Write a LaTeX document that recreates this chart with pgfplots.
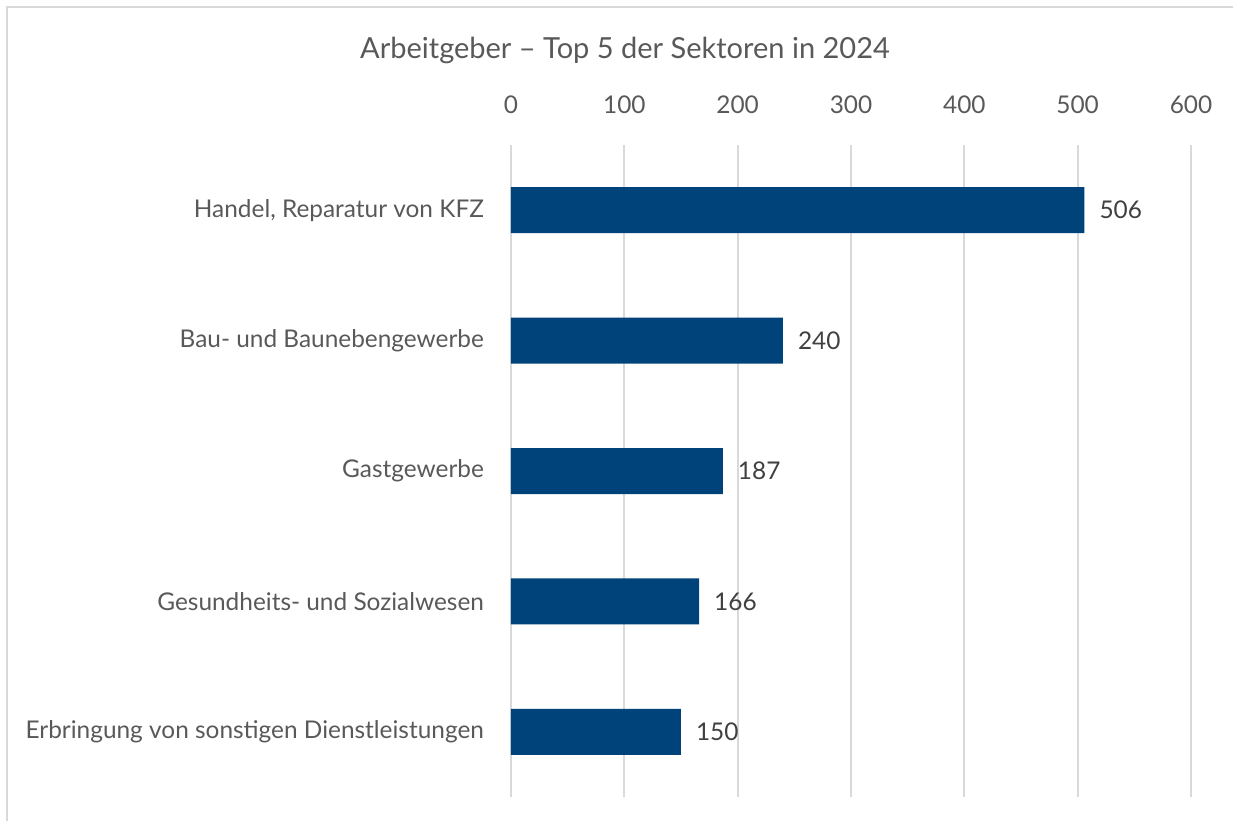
\documentclass[border=0pt]{standalone}
\usepackage{pgfplots}
\pgfplotsset{compat=1.18}
\usepackage{fontspec}
\setmainfont{Lato}
\definecolor{barblue}{RGB}{0,66,122}
\definecolor{txtgray}{RGB}{89,89,89}
\definecolor{valgray}{RGB}{64,64,64}
\definecolor{gridgray}{RGB}{217,217,217}
\begin{document}
\begin{tikzpicture}
\useasboundingbox (0pt,0pt) rectangle (616.5pt,410.5pt);
\draw[gridgray,line width=1pt] (3.5pt,0pt) -- (3.5pt,407pt) -- (616.5pt,407pt);
\node[txtgray,font=\fontsize{14.5}{17}\selectfont] at (312.5pt,385.5pt) {Arbeitgeber – Top 5 der Sektoren in 2024};
\begin{axis}[
  at={(255.5pt,12pt)}, anchor=south west,
  scale only axis, width=340pt, height=326pt,
  xbar, bar width=23pt,
  xmin=0, xmax=600, ymin=0.5, ymax=5.5,
  y dir=reverse,
  xtick={0,100,...,600},
  ytick={1,2,3,4,5},
  yticklabels={{Handel, Reparatur von KFZ}, {Bau- und Baunebengewerbe}, {Gastgewerbe}, {Gesundheits- und Sozialwesen}, {Erbringung von sonstigen Dienstleistungen}},
  xticklabel pos=upper,
  major tick length=0pt,
  xticklabel style={yshift=12pt},
  yticklabel style={xshift=-10pt},
  tick label style={txtgray,font=\fontsize{12.2}{14}\selectfont},
  /pgf/number format/assume math mode=true,
  axis line style={draw=none},
  xmajorgrids, grid style={gridgray,line width=0.9pt},
  nodes near coords,
  every node near coord/.append style={valgray,font=\fontsize{12.2}{14}\selectfont,xshift=4pt},
]
\addplot[fill=barblue,draw=none] coordinates {(506,1) (240,2) (187,3) (166,4) (150,5)};
\end{axis}
\end{tikzpicture}
\end{document}
